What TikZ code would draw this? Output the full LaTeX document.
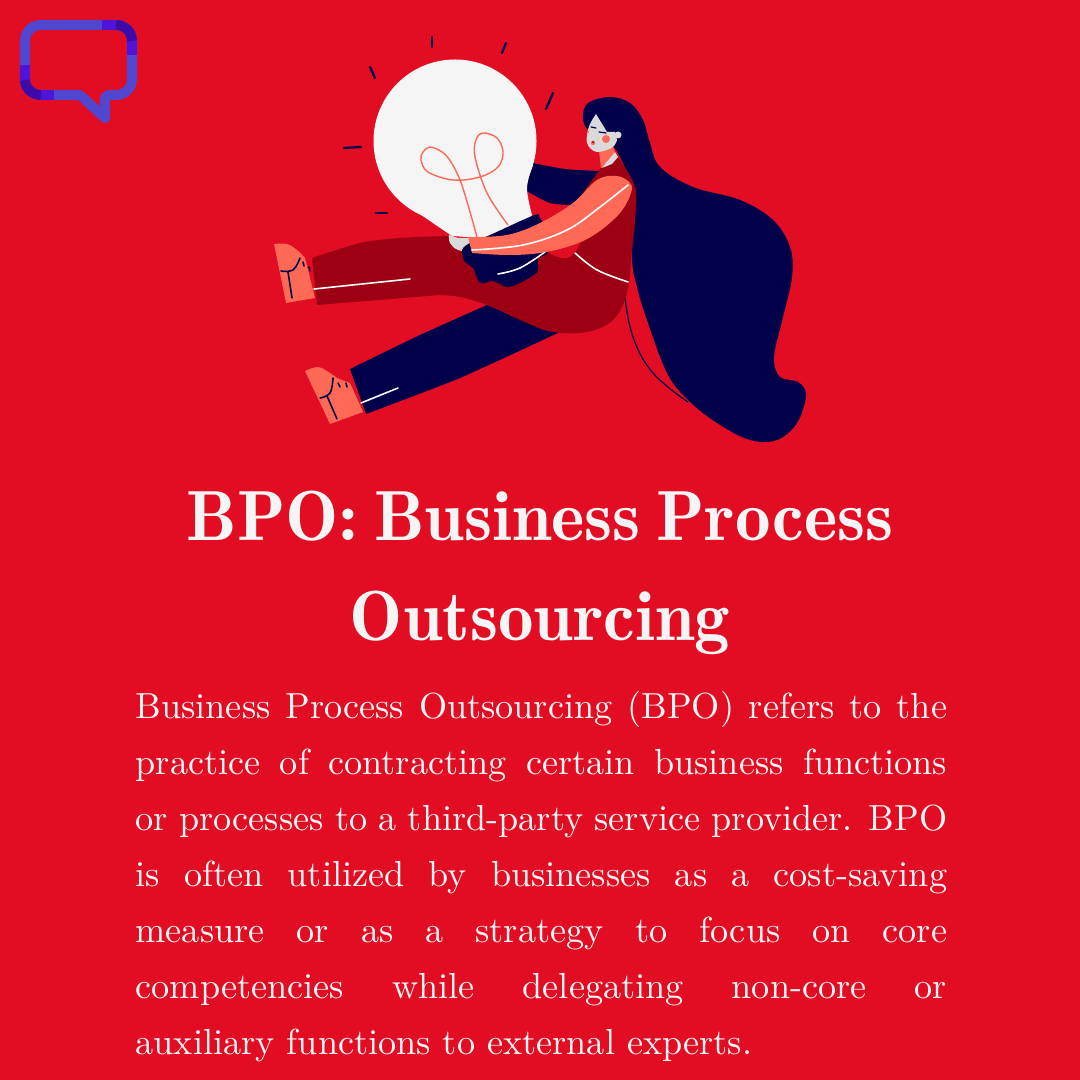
\documentclass[tikz,border=0pt]{standalone}
\usepackage{tikz}
\definecolor{bgred}{HTML}{E20C23}
\definecolor{navy}{HTML}{00004A}
\definecolor{wine}{HTML}{9C0012}
\definecolor{coral}{HTML}{FF6A56}
\definecolor{bulbwhite}{HTML}{F5F5F5}
\definecolor{skin}{HTML}{DADADA}
\definecolor{logoblue}{HTML}{5046D0}
\definecolor{logomid}{HTML}{4E14D8}
\definecolor{logodark}{HTML}{3E0AA8}
\tikzset{
    x=0.01cm,y=-0.01cm,
    ray/.style={draw=navy,line width=.65pt,line cap=round},
    mark line/.style={draw=navy,line width=.45pt,line cap=round},
    shine/.style={draw=white,line width=.45pt,line cap=round},
    logo/.style={line width=2.85pt,line join=round,line cap=butt},
    headline/.style={anchor=base,text=bulbwhite,inner sep=0pt,
        font=\fontsize{20.2}{28}\selectfont\fontseries{b}\selectfont},
    bodytext/.style={anchor=base west,text=bulbwhite,inner sep=0pt,text width=8.11cm,align=justify,
        font=\fontsize{10.3}{15.93}\selectfont}
}
\begin{document}
\begin{tikzpicture}
    \useasboundingbox (0,0) rectangle (1080,1080);
    \fill[bgred] (0,0) rectangle (1080,1080);

    % logo
    \draw[logo,draw=logoblue,line cap=round] (41,95) -- (80,95) -- (105,118) -- (105,100)
        .. controls (105,96) and (107,95) .. (110,95) -- (116,95)
        .. controls (125,95) and (132,88) .. (132,79) -- (132,41)
        .. controls (132,32) and (125,25) .. (116,25) -- (41,25)
        .. controls (32,25) and (25,32) .. (25,41) -- (25,80)
        .. controls (25,88) and (32,95) .. (41,95) -- cycle;
    \draw[logo,draw=logomid] (102,25) -- (116,25);
    \draw[logo,draw=logomid] (132,41) -- (132,55);
    \draw[logo,draw=logomid] (25,65) -- (25,80);
    \draw[logo,draw=logomid] (41,95) -- (54,95);
    \draw[logo,draw=logodark] (116,25) .. controls (125,25) and (132,32) .. (132,41);
    \draw[logo,draw=logodark] (25,80) .. controls (25,88) and (32,95) .. (41,95);

    % rays
    \draw[ray] (370,67) -- (375,78);
    \draw[ray] (432,37) -- (432,47);
    \draw[ray] (506,43) -- (502,53);
    \draw[ray] (553,93) -- (546,109);
    \draw[ray] (344,148) -- (361,147);
    \draw[ray] (376,213) -- (387,213);

    % hair
    \fill[navy] plot[smooth cycle,tension=.6] coordinates {(583,117) (588,103) (610,97) (630,103) (643,120)
        (650,143) (660,167) (693,187) (740,200) (773,220) (790,247) (792,277) (783,317) (774,357) (780,377)
        (798,382) (806,395) (797,423) (777,440) (750,440) (717,423) (688,400) (667,373) (647,320) (637,287)
        (632,257) (635,197) (626,170) (616,150) (606,140) (588,130)};
    \draw[navy,line width=.35pt] plot[smooth,tension=.7] coordinates {(625,297) (633,337) (653,373) (688,402)};

    % far arm
    \fill[navy] plot[smooth,tension=.5] coordinates {(533,163) (565,169) (600,171)} -- (575,205)
        -- plot[smooth,tension=.5] coordinates {(575,205) (550,203) (525,190)} -- cycle;

    % bulb
    \fill[bulbwhite] (455,141) circle[radius=81.5];
    \fill[bulbwhite] (533,165) -- plot[smooth,tension=.6] coordinates {(533,165) (527,188) (532,215)}
        -- (510,240) -- (452,236) -- plot[smooth,tension=.5] coordinates {(452,236) (420,214) (393,193)} -- (455,141) -- cycle;
    \draw[coral,line width=.4pt] plot[smooth,tension=.6] coordinates {(477,237) (468,205) (460,180) (451,162) (442,152) (430,147)
        (423,152) (421,160) (428,172) (453,180) (480,177) (498,167) (503,152) (497,138) (483,133) (476,140) (475,157) (487,193) (508,225)};

    % lower leg and shoe
    \fill[navy] plot[smooth,tension=.3] coordinates {(350,369) (420,335) (487,305)} -- (560,332)
        -- plot[smooth,tension=.3] coordinates {(560,332) (460,378) (366,414)} -- cycle;
    \draw[shine] (361,403) -- (398,388);
    \fill[coral] (330,424) -- (305,371) -- plot[smooth,tension=.6] coordinates {(305,371) (318,367) (330,373) (337,378)}
        -- (350,383) -- (363,412) -- cycle;
    \draw[mark line] plot[smooth,tension=.7] coordinates {(320,398) (330,393) (333,378)};
    \draw[mark line] (327,396) -- (337,419);
    \draw[mark line] (338,383) -- (340,387);
    \draw[mark line] (346,383) -- (347,387);

    % upper leg, torso and shoe
    \fill[wine] plot[smooth,tension=.5] coordinates {(312,258) (360,243) (400,238) (447,236)}
        -- plot[smooth,tension=.5] coordinates {(447,236) (480,246) (520,245) (560,225) (585,190) (601,168)}
        -- (618,157) -- plot[smooth,tension=.6] coordinates {(618,157) (635,187) (635,220) (632,250) (627,293) (613,320) (587,332)
        (553,332) (527,323) (487,305) (460,297) (440,295)} -- (317,305) -- cycle;
    \draw[shine] (314,289) -- (410,279);
    \fill[coral] (286,303) -- (274,244) -- plot[smooth,tension=.6] coordinates {(274,244) (287,244) (297,250) (305,258)}
        -- (315,298) -- cycle;
    \draw[mark line] plot[smooth,tension=.7] coordinates {(281,271) (293,270) (300,258)};
    \draw[mark line] (288,272) -- (292,298);
    \draw[mark line] (303,262) -- (304,266);
    \draw[mark line] (309,267) -- (310,271);
    \draw[shine] plot[smooth,tension=.6] coordinates {(575,253) (597,270) (628,282)};
    \fill[skin] plot[smooth,tension=.7] coordinates {(449,235) (450,243) (458,250) (472,252)} -- (470,238) -- (458,238) -- cycle;

    % face
    \fill[coral] (599,151) -- (613,147) -- (615,152) -- (605,164) -- (601,168) -- cycle;
    \fill[skin] (615,152) -- (618,157) -- (612,164) -- (602,168) -- (605,164) -- cycle;
    \fill[skin] plot[smooth,tension=.6] coordinates {(596,114) (590,124) (587,135) (587,143) (591,149) (597,152) (607,150) (614,146) (617,140)}
        -- (615,132) -- (607,132) -- cycle;
    \fill[skin] (618,135) circle[radius=3.5];
    \fill[coral] (606,139) circle[radius=4];
    \fill[coral] (588,132) circle[radius=1.2];
    \draw[navy,line width=.35pt,line cap=round] (591,127) -- (596,128);
    \draw[navy,line width=.35pt,line cap=round] (599,132) -- (606,133);
    \fill[coral] (593,143) circle[radius=2.2];
    \fill[wine] (593,142) circle[radius=1.2];

    % hands, red patch and near arm
    \fill[navy] plot[smooth cycle,tension=.5] coordinates {(490,235) (535,215) (541,220) (560,240) (545,255) (538,258)
        (537,272) (520,283) (507,287) (493,281) (480,283) (473,268) (465,262) (462,250) (470,243)};
    \draw[shine] plot[smooth,tension=.6] coordinates {(498,274) (520,268) (545,252)};
    \fill[bgred] plot[smooth,tension=.6] coordinates {(545,250) (555,256) (567,258) (575,252) (582,240)} -- (560,235) -- cycle;
    \fill[coral] (472,253) -- (468,237) -- plot[smooth,tension=.6] coordinates {(468,237) (507,235) (540,223) (573,203)
        (597,180) (617,176) (630,183) (631,193) (620,213) (597,233) (573,245) (540,253) (507,255) (472,253)};
    \draw[shine] plot[smooth,tension=.6] coordinates {(472,250) (523,245) (567,230) (600,207) (628,185)};

    % text
    \node[headline] (titleone) at (540,540) {\spaceskip=.22em BPO: Business Process};
    \node[headline] (titletwo) at (540,640) {Outsourcing};
    \node[bodytext] (bodypar) at (135,718) {Business Process Outsourcing (BPO) refers to the\linebreak
        practice of contracting certain business functions\linebreak
        or processes to a \mbox{third-party} service provider. BPO\linebreak
        is often utilized by businesses as a cost-saving\linebreak
        measure or as a strategy to focus on core\linebreak
        competencies while delegating non-core or\linebreak
        auxiliary functions to external experts.};
\end{tikzpicture}
\end{document}
